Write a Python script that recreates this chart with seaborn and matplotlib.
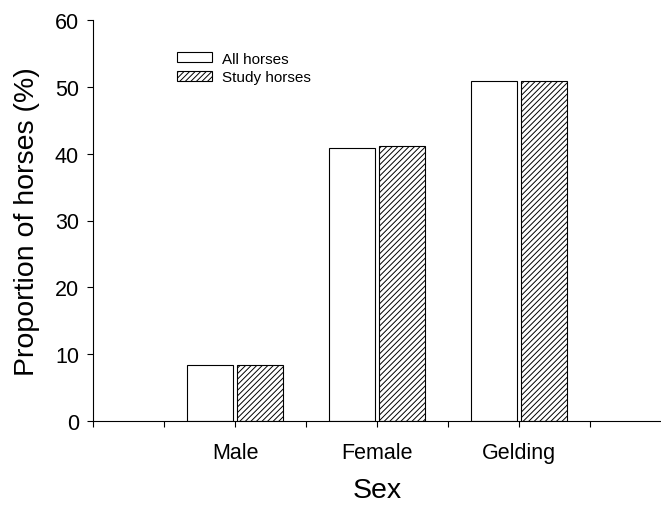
import matplotlib
matplotlib.use("Agg")
import matplotlib.pyplot as plt
import seaborn as sns
import pandas as pd

categories = ["Male", "Female", "Gelding"]
groups = ["All horses", "Study horses"]
all_horses = [8.4, 40.8, 50.8]
study_horses = [8.4, 41.1, 50.8]

df = pd.DataFrame({
    "Sex": categories * 2,
    "Group": [groups[0]] * 3 + [groups[1]] * 3,
    "Value": all_horses + study_horses,
})

sns.set_style("ticks")
plt.rcParams["font.family"] = ["Liberation Sans", "DejaVu Sans"]
plt.rcParams["hatch.linewidth"] = 0.7
plt.rcParams["hatch.color"] = "black"
plt.rcParams["text.color"] = "black"
plt.rcParams["axes.labelcolor"] = "black"
plt.rcParams["xtick.color"] = "black"
plt.rcParams["ytick.color"] = "black"
plt.rcParams["axes.edgecolor"] = "black"

fig = plt.figure(figsize=(6.61, 5.06), dpi=100)
ax = fig.add_axes([93 / 661, 84 / 506, 568 / 661, 401 / 506])

sns.barplot(data=df, x="Sex", y="Value", hue="Group", order=categories,
            hue_order=groups, palette=["white", "white"], width=0.7, gap=0.08,
            edgecolor="black", linewidth=0.8, ax=ax, legend=True)

hatches = ["", "//////"]
for cont, hatch in zip(ax.containers, hatches):
    for p in cont.patches:
        p.set_hatch(hatch)
        p.set_edgecolor("black")
        p.set_facecolor("white")

handles = ax.get_legend().legend_handles
for h, hatch in zip(handles, hatches):
    h.set_hatch(hatch)
    h.set_edgecolor("black")
    h.set_facecolor("white")
ax.get_legend().remove()
ax.legend(handles, groups, loc="upper left", bbox_to_anchor=(0.135, 0.94),
          frameon=False, fontsize=11, handlelength=2.3, handleheight=0.65,
          borderpad=0, labelspacing=0.3, handletextpad=0.65)

ax.set_xlim(-1, 3)
ax.set_ylim(0, 60)
ax.set_yticks(range(0, 61, 10))
xt = [-1, -0.5, 0, 0.5, 1, 1.5, 2, 2.5]
ax.set_xticks(xt)
ax.set_xticklabels(["", "", "Male", "", "Female", "", "Gelding", ""])
ax.tick_params(axis="both", labelsize=15.5, length=4, width=0.8, direction="out")
ax.tick_params(axis="y", pad=6)
ax.tick_params(axis="x", pad=11)
for s in ["top", "right"]:
    ax.spines[s].set_visible(False)
for s in ["left", "bottom"]:
    ax.spines[s].set_linewidth(0.8)

ax.set_xlabel("Sex", fontsize=20.5, labelpad=10)
ax.set_ylabel("Proportion of horses (%)", fontsize=20.5, labelpad=11)

fig.savefig("out.png", dpi=100)
